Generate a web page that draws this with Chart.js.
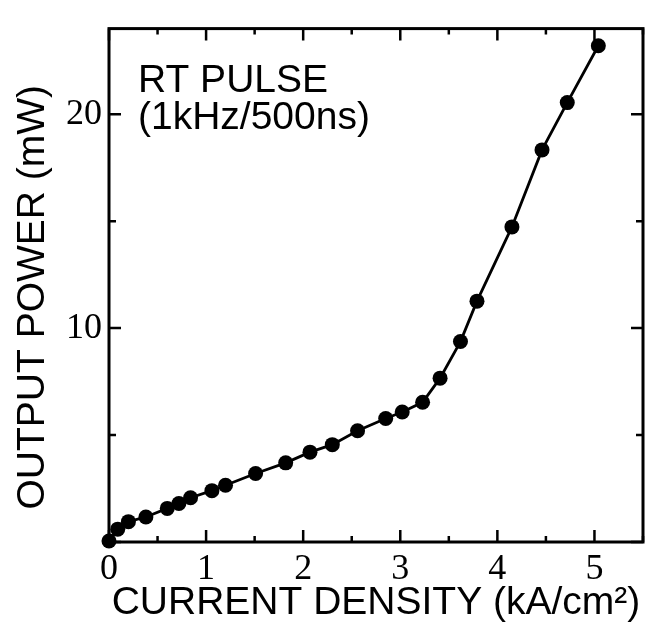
<!DOCTYPE html>
<html lang="en">
<head>
  <meta charset="UTF-8">
  <title>Output power vs current density</title>
  <script src="https://cdn.jsdelivr.net/npm/chart.js"></script>
  <style>
    html, body { margin: 0; padding: 0; background: #fff; }
    .wrap { width: 653px; height: 630px; }
  </style>
</head>
<body>
  <div class="wrap"><canvas id="liChart"></canvas></div>

  <script>
    // values
    const currentDensity = [0, 0.09, 0.2, 0.38, 0.6, 0.72, 0.84, 1.06, 1.2, 1.51, 1.82, 2.07, 2.3,
                            2.56, 2.85, 3.02, 3.23, 3.41, 3.62, 3.79, 4.15, 4.46, 4.72, 5.04];
    const outputPower = [0.05, 0.6, 0.95, 1.17, 1.57, 1.8, 2.07, 2.4, 2.65, 3.2, 3.7, 4.2, 4.55,
                         5.2, 5.77, 6.08, 6.53, 7.66, 9.37, 11.26, 14.73, 18.33, 20.54, 23.2];
    const xTickLabels = [0, 1, 2, 3, 4, 5];
    const yTickLabels = [10, 20];
    const noteLines = ['RT PULSE', '(1kHz/500ns)'];

    const sans = '"Liberation Sans", Arial, Helvetica, sans-serif';
    const serif = '"Liberation Serif", "Times New Roman", serif';

    // box around the plot with ticks pointing inward, plus the note in the corner
    const framePlugin = {
      id: 'frame',
      beforeDatasetsDraw(chart) {
        const { ctx, chartArea: a, scales: { x, y } } = chart;
        ctx.save();
        ctx.strokeStyle = '#000';
        ctx.lineWidth = 3;
        ctx.strokeRect(a.left, a.top, a.right - a.left, a.bottom - a.top);
        ctx.lineWidth = 2.5;
        ctx.beginPath();
        x.ticks.forEach(t => {
          const px = x.getPixelForValue(t.value);
          const len = Number.isInteger(t.value) ? 12 : 6;
          ctx.moveTo(px, a.bottom); ctx.lineTo(px, a.bottom - len);
          ctx.moveTo(px, a.top); ctx.lineTo(px, a.top + len);
        });
        y.ticks.forEach(t => {
          if (t.value % 5 !== 0) return;
          const py = y.getPixelForValue(t.value);
          const len = t.value % 10 === 0 ? 12 : 7;
          ctx.moveTo(a.left, py); ctx.lineTo(a.left + len, py);
          ctx.moveTo(a.right, py); ctx.lineTo(a.right - len, py);
        });
        ctx.stroke();
        ctx.restore();
      },
      afterDraw(chart) {
        const { ctx, chartArea: a } = chart;
        ctx.save();
        ctx.fillStyle = '#000';
        ctx.font = '39px ' + sans;
        ctx.textAlign = 'left';
        ctx.textBaseline = 'alphabetic';
        noteLines.forEach((line, i) => {
          ctx.fillText(line, a.left + 29, a.top + 63 + i * 37);
        });
        ctx.restore();
      }
    };

    new Chart(document.getElementById('liChart'), {
      type: 'line',
      data: {
        datasets: [{
          data: currentDensity.map((v, i) => ({ x: v, y: outputPower[i] })),
          borderColor: '#000',
          backgroundColor: '#000',
          borderWidth: 2.8,
          pointRadius: 7.5,
          pointBackgroundColor: '#000',
          pointBorderWidth: 0,
          tension: 0,
          clip: false
        }]
      },
      options: {
        responsive: true,
        maintainAspectRatio: false,
        animation: false,
        layout: { padding: { left: 0, right: 10, top: 12, bottom: 0 } },
        plugins: { legend: { display: false }, tooltip: { enabled: false } },
        scales: {
          x: {
            type: 'linear',
            min: 0, max: 5.5,
            afterFit: s => { s.height = 88; },
            grid: { display: false, drawTicks: false },
            border: { display: false },
            ticks: {
              stepSize: 0.5,
              autoSkip: false,
              maxRotation: 0,
              padding: 6,
              color: '#000',
              font: { family: serif, size: 36 },
              callback: v => xTickLabels.includes(v) ? String(v) : ''
            },
            title: {
              display: true,
              text: 'CURRENT DENSITY (kA/cm²)',
              color: '#000',
              font: { family: sans, size: 39 },
              padding: { top: 0, bottom: 3 }
            }
          },
          y: {
            type: 'linear',
            min: 0, max: 24,
            afterFit: s => { s.width = 109; },
            grid: { display: false, drawTicks: false },
            border: { display: false },
            ticks: {
              stepSize: 5,
              autoSkip: false,
              padding: 7,
              color: '#000',
              font: { family: serif, size: 36 },
              callback: v => yTickLabels.includes(v) ? String(v) : ''
            },
            title: {
              display: true,
              align: 'start',
              text: '   OUTPUT POWER (mW)',
              color: '#000',
              font: { family: sans, size: 39 },
              padding: { top: 10, bottom: 0 }
            }
          }
        }
      },
      plugins: [framePlugin]
    });
  </script>
</body>
</html>
